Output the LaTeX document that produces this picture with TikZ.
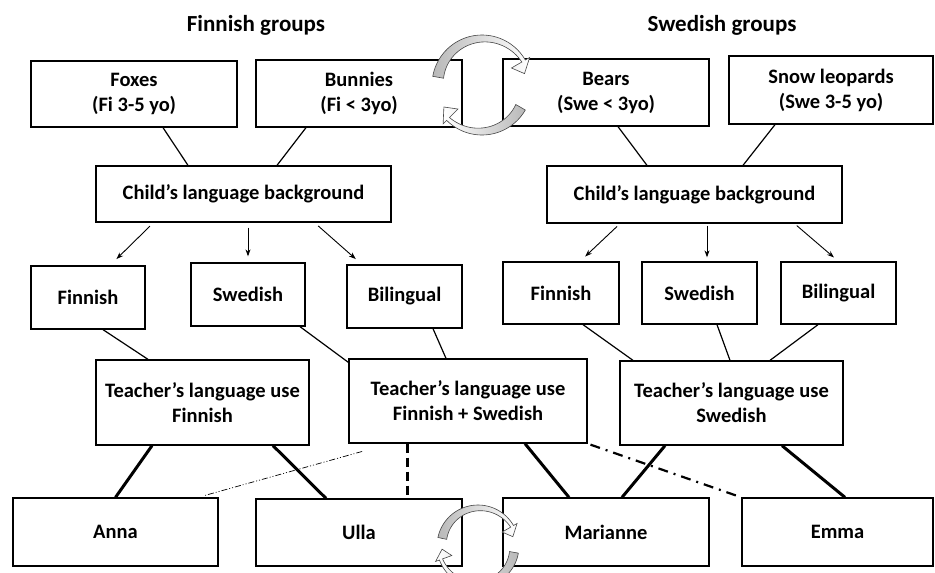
\documentclass[tikz,border=0pt]{standalone}
\usepackage{fontspec}
\setmainfont{Carlito}
\usetikzlibrary{arrows.meta}

% curved swap arrow: centre x, centre y, radius, from angle, to angle, left colour, right colour
\newcommand{\swaparrow}[7]{%
    \shade[left color=#6, right color=#7, draw=gray!55!black, line width=0.6pt]
        plot[domain=#4:#5, samples=40] ({#1+#3*cos(\x)}, {#2+#3*sin(\x)})
        -- ({#1+1.1*#3*cos(#5)}, {#2+1.1*#3*sin(#5)})
        -- ({#1+0.88*#3*cos(#5+15)}, {#2+0.88*#3*sin(#5+15)})
        -- ({#1+0.68*#3*cos(#5)}, {#2+0.68*#3*sin(#5)})
        -- plot[domain=#5:#4, samples=40]
            ({#1+(#3*(0.78+0.14*(\x-(#4))/((#5)-(#4))))*cos(\x)},
             {#2+(#3*(0.78+0.14*(\x-(#4))/((#5)-(#4))))*sin(\x)})
        -- cycle;
}

\begin{document}
\begin{tikzpicture}[x=1pt, y=-1pt,
    box/.style={draw, line width=1.3pt, align=center, inner sep=2pt,
        font=\bfseries\fontsize{20.5}{25}\selectfont},
    link/.style={line width=1.2pt},
    pointer/.style={line width=0.9pt, -{Stealth[length=7pt, width=5pt]}},
    strong/.style={line width=3pt}
    ]
    \useasboundingbox (0,0) rectangle (935,573);

    % titles
    \node[font=\bfseries\fontsize{23}{27}\selectfont] (fititle) at (256,25) {Finnish groups};
    \node[font=\bfseries\fontsize{23}{27}\selectfont] (swtitle) at (722,25) {Swedish groups};

    \begin{scope}[every node/.style={box}]
        \node[minimum width=206pt, minimum height=66pt] (foxes) at (134,94) {Foxes\\(Fi 3-5 yo)};
        \node[minimum width=206pt, minimum height=67pt] (bunnies) at (359,93.5) {Bunnies\\(Fi < 3yo)};
        \node[minimum width=206pt, minimum height=67pt] (bears) at (606,92.5) {Bears\\(Swe < 3yo)};
        \node[minimum width=204pt, minimum height=68pt] (leopards) at (831,90) {Snow leopards\\(Swe 3-5 yo)};

        \node[minimum width=295pt, minimum height=56pt] (bgfi) at (243.5,194) {Child's language background};
        \node[minimum width=295pt, minimum height=57pt] (bgsw) at (694.5,194.5) {Child's language background};

        \node[minimum width=114pt, minimum height=63pt] (fifi) at (88,297.5) {Finnish};
        \node[minimum width=114pt, minimum height=63pt] (fisw) at (248,294.5) {Swedish};
        \node[minimum width=115pt, minimum height=63pt] (fibi) at (404.5,296.5) {Bilingual};
        \node[minimum width=116pt, minimum height=62pt] (swfi) at (561,293) {Finnish};
        \node[minimum width=115pt, minimum height=62pt] (swsw) at (699.5,293) {Swedish};
        \node[minimum width=115pt, minimum height=62pt] (swbi) at (838.5,293) {Bilingual};

        \node[minimum width=213pt, minimum height=85pt] (tfi) at (202.5,402.5) {Teacher's language use\\Finnish};
        \node[minimum width=238pt, minimum height=84pt] (tmix) at (468,401) {Teacher's language use\\Finnish + Swedish};
        \node[minimum width=223pt, minimum height=84pt] (tsw) at (731.5,403) {Teacher's language use\\Swedish};

        \node[minimum width=205pt, minimum height=68pt] (anna) at (115.5,532) {Anna};
        \node[minimum width=206pt, minimum height=67pt] (ulla) at (359,532.5) {Ulla};
        \node[minimum width=206pt, minimum height=68pt] (marianne) at (606,532) {Marianne};
        \node[minimum width=191pt, minimum height=68pt] (emma) at (837.5,532) {Emma};
    \end{scope}

    % groups to background
    \draw[link] ([xshift=29pt]foxes.south) -- ([xshift=-55.5pt]bgfi.north);
    \draw[link] ([xshift=-53pt]bunnies.south) -- ([xshift=33.5pt]bgfi.north);
    \draw[link] ([xshift=12pt]bears.south) -- ([xshift=-47.5pt]bgsw.north);
    \draw[link] ([xshift=-56pt]leopards.south) -- ([xshift=48.5pt]bgsw.north);

    % background to language
    \draw[pointer, shorten <=5pt, shorten >=9pt] ([xshift=-90pt]bgfi.south) -- ([xshift=22pt]fifi.north);
    \draw[pointer, shorten <=5pt, shorten >=6pt] ([xshift=4.5pt]bgfi.south) -- (fisw.north);
    \draw[pointer, shorten <=5pt, shorten >=8pt] ([xshift=71pt]bgfi.south) -- ([xshift=-42.7pt]fibi.north);
    \draw[pointer, shorten <=4pt, shorten >=7pt] ([xshift=-74.5pt]bgsw.south) -- ([xshift=19pt]swfi.north);
    \draw[pointer, shorten <=2pt, shorten >=4pt] ([xshift=12.5pt]bgsw.south) -- ([xshift=7.5pt]swsw.north);
    \draw[pointer, shorten <=3pt, shorten >=6pt] ([xshift=100pt]bgsw.south) -- (swbi.north);

    % language to teacher
    \draw[link] ([xshift=15pt]fifi.south) -- ([xshift=-54.5pt]tfi.north);
    \draw[link] ([xshift=52pt]fisw.south) -- ([yshift=-4pt]tmix.north west);
    \draw[link] ([xshift=28.5pt]fibi.south) -- ([xshift=-22pt]tmix.north);
    \draw[link] ([xshift=22pt]swfi.south) -- ([xshift=-98.5pt]tsw.north);
    \draw[link] ([xshift=17.5pt]swsw.south) -- ([xshift=-1.5pt]tsw.north);
    \draw[link] ([xshift=-20.5pt]swbi.south) -- ([xshift=38.5pt]tsw.north);

    % teachers to staff
    \draw[strong] ([xshift=-50.5pt]tfi.south) -- (anna.north);
    \draw[strong] ([xshift=70.5pt]tfi.south) -- ([xshift=-33pt]ulla.north);
    \draw[strong, dash pattern=on 9pt off 5pt] ([xshift=-61pt]tmix.south) -- ([xshift=48pt]ulla.north);
    \draw[strong] ([xshift=57pt]tmix.south) -- ([xshift=-37pt]marianne.north);
    \draw[strong] ([xshift=-66.5pt]tsw.south) -- ([xshift=16pt]marianne.north);
    \draw[strong] ([xshift=50.5pt]tsw.south) -- ([xshift=7.5pt]emma.north);
    \draw[line width=2.2pt, dash pattern=on 10pt off 6pt on 2pt off 6pt, shorten <=3pt, shorten >=3pt]
        (tmix.south east) -- (emma.north west);
    \draw[line width=0.7pt, dash pattern=on 6pt off 2pt on 1pt off 2pt on 1pt off 2pt, shorten <=29pt, shorten >=7pt]
        ([xshift=-78pt]tmix.south) -- ([xshift=82.5pt]anna.north);

    % swap arrows
    \swaparrow{482}{85}{50}{190}{330}{gray!55}{white}
    \swaparrow{482}{85}{50}{30}{135}{white}{gray!55}
    \swaparrow{478}{546}{41}{192}{330}{gray!55}{white}
    \swaparrow{478}{546}{41}{10}{160}{white}{gray!55}
\end{tikzpicture}
\end{document}
